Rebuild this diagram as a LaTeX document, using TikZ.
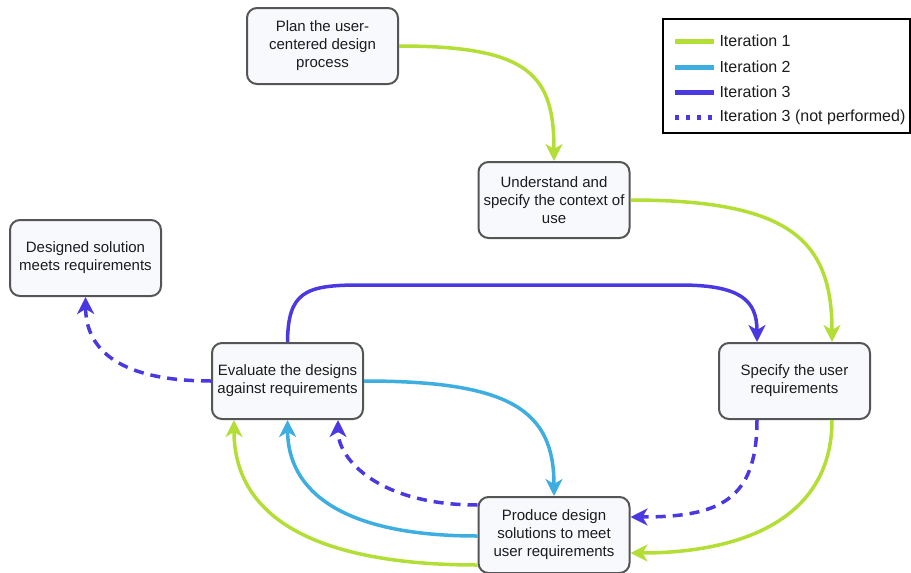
\documentclass[tikz,border=0pt]{standalone}
\usepackage{fontspec}
\setmainfont{Liberation Sans}
\usetikzlibrary{arrows.meta}
\definecolor{itone}{HTML}{B3DE36}
\definecolor{ittwo}{HTML}{3DAEDF}
\definecolor{itthree}{HTML}{4A39E0}
\definecolor{boxfill}{HTML}{F7F9FC}
\definecolor{boxline}{HTML}{555555}
\definecolor{txt}{HTML}{1C1C1C}
\tikzset{
  stepbox/.style={draw=boxline, line width=2pt, fill=boxfill, rounded corners=10pt,
    minimum width=151pt, minimum height=76pt, align=center, text=txt,
    font=\fontsize{15pt}{18pt}\selectfont, inner sep=2pt},
  flow/.style={line width=3.5pt, -{Stealth[length=17pt,width=17pt,inset=5pt]}},
  ione/.style={flow, draw=itone},
  itwo/.style={flow, draw=ittwo},
  ithree/.style={flow, draw=itthree},
  iskip/.style={ithree, dash pattern=on 10pt off 7pt},
  legline/.style={line width=5pt},
  legtext/.style={anchor=west, inner sep=0pt, text=txt, font=\fontsize{16pt}{19pt}\selectfont}
}
\begin{document}
\begin{tikzpicture}[x=1pt, y=-1pt]
\useasboundingbox (0,0) rectangle (911,573);

% process steps
\node[stepbox] (plan) at (322.5,46) {Plan the user-\\centered design\\process};
\node[stepbox] (ctx)  at (554,200) {Understand and\\specify the context of\\use};
\node[stepbox] (done) at (85.5,258) {Designed solution\\meets requirements};
\node[stepbox] (eval) at (287.5,381) {Evaluate the designs\\against requirements};
\node[stepbox] (spec) at (794.5,381) {Specify the user\\requirements};
\node[stepbox] (prod) at (554,535) {Produce design\\solutions to meet\\user requirements};

% iteration 1
\draw[ione] (plan.east) .. controls (530,46) and (554,75) .. (ctx.north);
\draw[ione] (ctx.east) .. controls (790,200) and (832,240) .. ([xshift=37.5pt]spec.north);
\draw[ione] ([xshift=37.5pt]spec.south) .. controls (832,520) and (740,553) .. ([yshift=-18pt]prod.east);
\draw[ione] ([yshift=-30pt]prod.west) .. controls (320,565) and (234,520) .. ([xshift=-53.5pt]eval.south);

% iteration 2
\draw[itwo] ([yshift=-1pt]prod.west) .. controls (340,536) and (288,490) .. (eval.south);
\draw[itwo] (eval.east) .. controls (510,381) and (554,410) .. (prod.north);

% iteration 3
\draw[ithree] (eval.north) .. controls (288,292) and (305,285) .. (360,285)
  -- (680,285) .. controls (740,285) and (757,300) .. ([xshift=-37.5pt]spec.north);
\draw[iskip] ([xshift=-37.5pt]spec.south) .. controls (757,500) and (720,517) .. ([yshift=18pt]prod.east);
\draw[iskip] ([yshift=30pt]prod.west) .. controls (380,505) and (338,460) .. ([xshift=50.5pt]eval.south);
\draw[iskip] (eval.west) .. controls (120,381) and (86,350) .. (done.south);

% legend
\node[draw=black, line width=1.3pt, fill=white, minimum width=247pt, minimum height=114pt,
      inner sep=0pt] (legend) at (786.5,76) {};
\coordinate (la) at (675,41);
\coordinate (lb) at (675,67);
\coordinate (lc) at (675,92);
\coordinate (ld) at (675,117);
\draw[legline, itone]   (la) -- ++(39,0) node[legtext, right=3pt] {Iteration 1};
\draw[legline, ittwo]   (lb) -- ++(39,0) node[legtext, right=3pt] {Iteration 2};
\draw[legline, itthree] (lc) -- ++(39,0) node[legtext, right=3pt] {Iteration 3};
\draw[legline, itthree, dash pattern=on 4pt off 7pt] (ld) -- ++(39,0)
  node[legtext, right=3pt] {Iteration 3 (not performed)};
\end{tikzpicture}
\end{document}
